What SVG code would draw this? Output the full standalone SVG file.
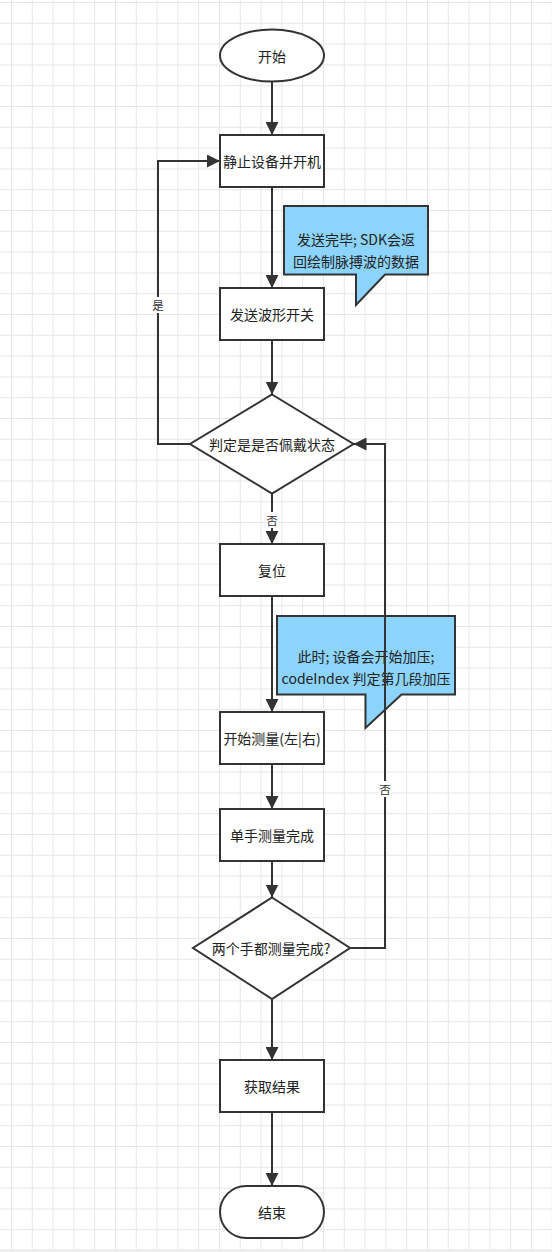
<svg xmlns="http://www.w3.org/2000/svg" width="552" height="1252" viewBox="0 0 552 1252">
<defs>
<pattern id="grid" x="11" y="2" width="20.8" height="20.8" patternUnits="userSpaceOnUse">
<path d="M0.5,0 V20.8 M0,0.5 H20.8" stroke="#e6e6e6" stroke-width="1" fill="none"/>
</pattern>
<marker id="arr" viewBox="0 0 13 13" refX="13" refY="6.5" markerWidth="13" markerHeight="13" markerUnits="userSpaceOnUse" orient="auto">
<path d="M0,0 L13,6.5 L0,13 z" fill="#333"/>
</marker>
<style>
.shape{fill:#fff;stroke:#333;stroke-width:2}
.note{fill:#8cd4fb;stroke:#333;stroke-width:2;stroke-linejoin:miter}
.t{font-family:"Noto Sans CJK SC","Noto Sans",sans-serif;font-size:14px;fill:#222;text-anchor:middle;dominant-baseline:central}
.lbl{font-family:"Noto Sans CJK SC","Noto Sans",sans-serif;font-size:11.5px;fill:#333;text-anchor:middle;dominant-baseline:central}
.edge{fill:none;stroke:#333;stroke-width:2}
</style>
</defs>
<rect width="552" height="1252" fill="#fff"/>
<rect width="552" height="1252" fill="url(#grid)"/>
<rect x="0" y="1249" width="552" height="3" fill="#eeeeee"/>

<g id="start">
<ellipse class="shape" cx="272" cy="55.5" rx="52" ry="26"/>
<text class="t" x="272" y="55.5">开始</text>
</g>
<g id="box-static">
<rect class="shape" x="220" y="135" width="104" height="52"/>
<text class="t" x="272" y="161">静止设备并开机</text>
</g>
<g id="note-1">
<path class="note" d="M284,206 H428 V274.5 H385 L356,305 V274.5 H284 Z"/>
<text class="t" x="356" y="239">发送完毕; SDK会返</text>
<text class="t" x="356" y="261">回绘制脉搏波的数据</text>
</g>
<g id="box-wave">
<rect class="shape" x="220" y="288" width="104" height="52"/>
<text class="t" x="272" y="314">发送波形开关</text>
</g>
<g id="dec-wear">
<path class="shape" d="M272,394.5 L353.5,444 L272,493.5 L190,444 Z"/>
<text class="t" x="272" y="444">判定是是否佩戴状态</text>
</g>
<g id="box-reset">
<rect class="shape" x="220" y="544" width="104" height="52"/>
<text class="t" x="272" y="570">复位</text>
</g>
<g id="note-2">
<path class="note" d="M277,616 H455 V694.5 H401.5 L365.5,728 V694.5 H277 Z"/>
<text class="t" x="366" y="656">此时; 设备会开始加压;</text>
<text class="t" x="366" y="678">codeIndex 判定第几段加压</text>
</g>
<g id="box-measure">
<rect class="shape" x="220" y="712" width="104" height="52"/>
<text class="t" x="272" y="738">开始测量(左|右)</text>
</g>
<g id="box-single">
<rect class="shape" x="220" y="809" width="104" height="52"/>
<text class="t" x="272" y="835">单手测量完成</text>
</g>
<g id="dec-both">
<path class="shape" d="M272,897.5 L350,948 L272,999 L193,948 Z"/>
<text class="t" x="271" y="948">两个手都测量完成?</text>
</g>
<g id="box-result">
<rect class="shape" x="220" y="1060" width="104" height="52"/>
<text class="t" x="272" y="1086">获取结果</text>
</g>
<g id="end">
<rect class="shape" x="220" y="1186" width="104" height="52" rx="26" ry="26"/>
<text class="t" x="272" y="1212">结束</text>
</g>

<g id="connectors">
<path class="edge" d="M272,82 V135" marker-end="url(#arr)"/>
<path class="edge" d="M272,187 V288" marker-end="url(#arr)"/>
<path class="edge" d="M272,340 V394.5" marker-end="url(#arr)"/>
<path class="edge" d="M190,444 H158 V161 H220" marker-end="url(#arr)"/>
<path class="edge" d="M272,493.5 V544" marker-end="url(#arr)"/>
<path class="edge" d="M272,596 V712" marker-end="url(#arr)"/>
<path class="edge" d="M272,764 V809" marker-end="url(#arr)"/>
<path class="edge" d="M272,861 V897.5" marker-end="url(#arr)"/>
<path class="edge" d="M350,948 H385 V444 H353.5" marker-end="url(#arr)"/>
<path class="edge" d="M272,999 V1060" marker-end="url(#arr)"/>
<path class="edge" d="M272,1112 V1186" marker-end="url(#arr)"/>
<rect x="151" y="297" width="14" height="16" fill="#fff"/>
<text class="lbl" x="158" y="305">是</text>
<rect x="265" y="512" width="14" height="16" fill="#fff"/>
<text class="lbl" x="272" y="520">否</text>
<rect x="378" y="781" width="14" height="16" fill="#fff"/>
<text class="lbl" x="385" y="789">否</text>
</g>
</svg>
